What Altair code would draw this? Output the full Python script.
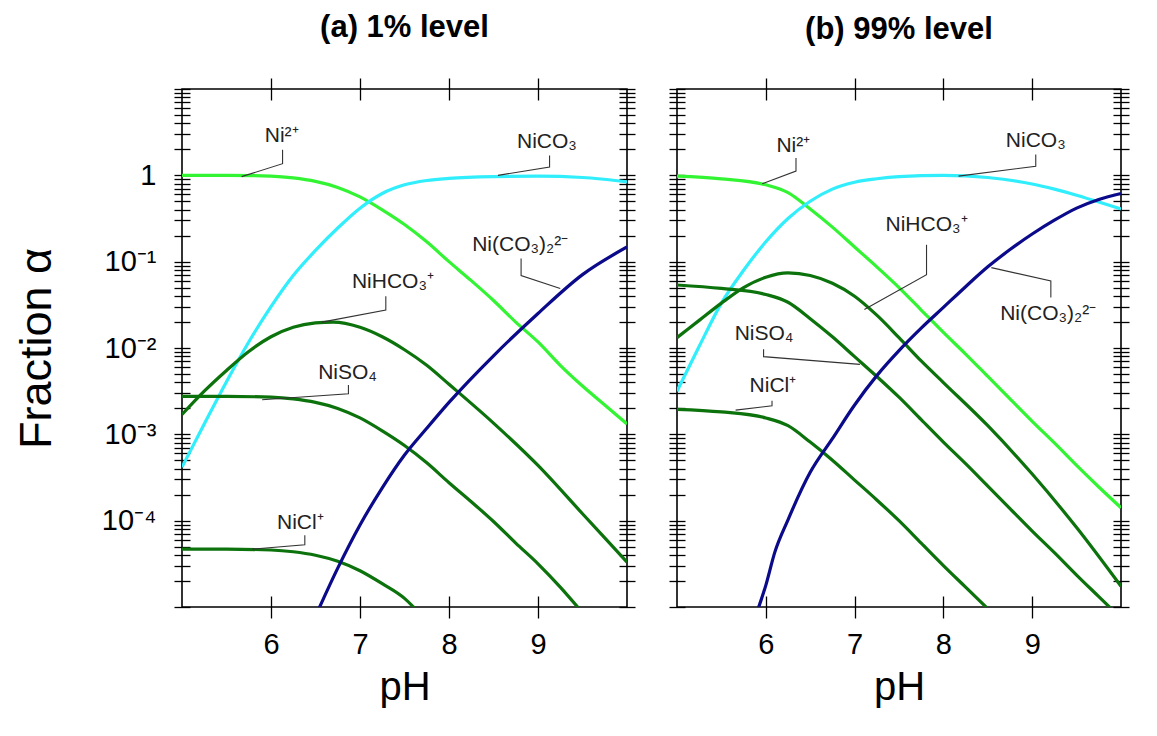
import altair as alt
import pandas as pd

# ---------------- data: pH and log10(fraction alpha) ----------------
SPECIES = ["Ni2+", "NiCO3", "NiHCO3+", "NiSO4", "NiCl+", "Ni(CO3)2 2-"]
COLORS = ["#33f433", "#30eefb", "#0c720c", "#0c720c", "#0c720c", "#0a0a8a"]

# Panel (a) 1% level
A_PH_NI2 = [5.0, 5.5, 6.0, 6.25, 6.5, 6.75, 7.0, 7.25, 7.5, 7.75, 8.0, 8.25, 8.5, 8.75, 9.0, 9.25, 9.5, 9.75, 10.0]
A_LG_NI2 = [0.0, 0.0, -0.01, -0.03, -0.07, -0.14, -0.25, -0.40, -0.57, -0.77, -1.0, -1.22, -1.45, -1.70, -1.93, -2.2, -2.44, -2.66, -2.88]
A_PH_CO3 = [5.0, 5.25, 5.5, 5.75, 6.0, 6.25, 6.5, 6.75, 7.0, 7.25, 7.5, 7.75, 8.0, 8.5, 9.0, 9.5, 10.0]
A_LG_CO3 = [-3.38, -2.88, -2.39, -1.93, -1.52, -1.16, -0.87, -0.61, -0.38, -0.21, -0.11, -0.06, -0.035, -0.015, -0.01, -0.025, -0.075]
A_PH_HCO3 = [5.0, 5.25, 5.5, 5.75, 6.0, 6.25, 6.5, 6.7, 7.0, 7.25, 7.5, 7.75, 8.0, 8.5, 9.0, 9.5, 10.0]
A_LG_HCO3 = [-2.77, -2.5, -2.26, -2.04, -1.87, -1.76, -1.71, -1.70, -1.76, -1.87, -2.02, -2.2, -2.42, -2.87, -3.36, -3.92, -4.48]
A_PH_SO4 = [5.0, 5.5, 6.0, 6.25, 6.5, 6.75, 7.0, 7.25, 7.5, 7.75, 8.0, 8.25, 8.5, 8.75, 9.0, 9.25, 9.47]
A_LG_SO4 = [-2.56, -2.56, -2.57, -2.59, -2.63, -2.70, -2.81, -2.96, -3.13, -3.33, -3.56, -3.78, -4.01, -4.26, -4.5, -4.77, -5.03]
A_PH_CL = [5.0, 5.5, 6.0, 6.25, 6.5, 6.75, 7.0, 7.25, 7.5, 7.62]
A_LG_CL = [-4.33, -4.33, -4.34, -4.36, -4.40, -4.47, -4.58, -4.73, -4.9, -5.02]
A_PH_DI = [6.52, 6.75, 7.0, 7.25, 7.5, 7.75, 8.0, 8.5, 9.0, 9.5, 10.0]
A_LG_DI = [-5.06, -4.55, -4.05, -3.62, -3.24, -2.93, -2.63, -2.09, -1.6, -1.15, -0.83]

# Panel (b) 99% level
B_PH_NI2 = [5.0, 5.5, 6.0, 6.25, 6.5, 6.75, 7.0, 7.25, 7.5, 7.75, 8.0, 8.25, 8.5, 8.75, 9.0, 9.25, 9.5, 9.75, 10.0]
B_LG_NI2 = [-0.01, -0.04, -0.11, -0.2, -0.39, -0.6, -0.83, -1.06, -1.3, -1.56, -1.82, -2.07, -2.33, -2.59, -2.85, -3.1, -3.36, -3.61, -3.85]
B_PH_CO3 = [5.0, 5.25, 5.5, 5.75, 6.0, 6.25, 6.5, 6.75, 7.0, 7.25, 7.5, 8.0, 8.5, 9.0, 9.25, 9.5, 9.75, 10.0]
B_LG_CO3 = [-2.5, -1.98, -1.48, -1.1, -0.77, -0.5, -0.3, -0.16, -0.08, -0.04, -0.015, 0.0, -0.025, -0.1, -0.16, -0.23, -0.31, -0.39]
B_PH_HCO3 = [5.0, 5.25, 5.5, 5.75, 6.0, 6.25, 6.5, 6.75, 7.0, 7.25, 7.5, 7.75, 8.0, 8.5, 9.0, 9.5, 10.0]
B_LG_HCO3 = [-1.88, -1.68, -1.48, -1.3, -1.18, -1.13, -1.16, -1.25, -1.4, -1.62, -1.88, -2.15, -2.4, -2.9, -3.46, -4.08, -4.76]
B_PH_SO4 = [5.0, 5.5, 6.0, 6.25, 6.5, 6.75, 7.0, 7.25, 7.5, 7.75, 8.0, 8.25, 8.5, 8.75, 9.0, 9.25, 9.5, 9.75, 9.92]
B_LG_SO4 = [-1.27, -1.31, -1.38, -1.47, -1.66, -1.87, -2.1, -2.33, -2.57, -2.83, -3.09, -3.34, -3.6, -3.86, -4.12, -4.37, -4.63, -4.88, -5.05]
B_PH_CL = [5.0, 5.5, 6.0, 6.25, 6.5, 6.75, 7.0, 7.25, 7.5, 7.75, 8.0, 8.25, 8.52]
B_LG_CL = [-2.71, -2.74, -2.81, -2.9, -3.09, -3.3, -3.53, -3.76, -4.0, -4.26, -4.52, -4.77, -5.04]
B_PH_DI = [5.9, 6.0, 6.1, 6.25, 6.5, 6.75, 7.0, 7.25, 7.5, 7.75, 8.0, 8.25, 8.5, 8.75, 9.0, 9.25, 9.5, 9.75, 10.0]
B_LG_DI = [-5.06, -4.75, -4.37, -3.99, -3.44, -3.05, -2.66, -2.32, -2.03, -1.77, -1.53, -1.29, -1.06, -0.86, -0.68, -0.52, -0.38, -0.28, -0.21]

# ---------------- annotation labels (text position + leader polyline, pH / log10 alpha) -------------
LABELS = ["Ni²⁺", "NiCO₃", "Ni(CO₃)₂²⁻", "NiHCO₃⁺", "NiSO₄", "NiCl⁺"]
A_LBL_PH = [6.12, 9.10, 8.80, 7.37, 6.86, 6.33]
A_LBL_LG = [0.45, 0.39, -0.81, -1.23, -2.29, -4.03]
A_LEAD_PH = [[6.13, 6.13, 5.67], [9.13, 9.13, 8.55], [8.81, 8.81, 9.25],
             [7.29, 7.29, 6.57], [6.87, 6.87, 5.90], [6.38, 6.38, 5.79]]
A_LEAD_LG = [[0.297, 0.135, -0.015], [0.231, 0.097, 0.0], [-0.964, -1.16, -1.31],
             [-1.40, -1.56, -1.70], [-2.43, -2.53, -2.60], [-4.17, -4.28, -4.33]]

B_LBL_PH = [6.31, 9.04, 9.18, 7.81, 5.98, 6.08]
B_LBL_LG = [0.34, 0.40, -1.61, -0.58, -1.84, -2.44]
B_LEAD_PH = [[6.34, 6.34, 5.96], [9.04, 9.04, 8.17], [9.21, 9.21, 8.54],
             [7.81, 7.81, 7.11], [5.975, 5.975, 7.06], [6.07, 6.07, 5.66]]
B_LEAD_LG = [[0.202, 0.049, -0.098], [0.24, 0.106, -0.009], [-1.416, -1.223, -1.069],
             [-0.803, -1.15, -1.555], [-2.014, -2.10, -2.19], [-2.61, -2.67, -2.72]]

X_TICKS = [6, 7, 8, 9]
Y_DECADES = [1e-5, 1e-4, 1e-3, 1e-2, 1e-1, 1.0]
Y_MULTS = [1, 2, 3, 4, 5, 6, 7, 8, 9]
Y_TICKS = [m * d for d in Y_DECADES for m in Y_MULTS] + [10.0]

FONT = "Liberation Sans"

LABEL_EXPR = (
    "abs(datum.value - 1) < 1e-6 ? '1' : "
    "abs(datum.value - 0.1) < 1e-7 ? '10⁻¹' : "
    "abs(datum.value - 0.01) < 1e-8 ? '10⁻²' : "
    "abs(datum.value - 0.001) < 1e-9 ? '10⁻³' : "
    "abs(datum.value - 0.0001) < 1e-10 ? '10⁻⁴' : ''"
)


def series_frame(pairs):
    rows = []
    for sp, phs, lgs in pairs:
        for p, v in zip(phs, lgs):
            rows.append({"species": sp, "pH": p, "alpha": 10 ** v})
    return pd.DataFrame(rows)


def leader_frame(lph, llg):
    rows = []
    for i, (phs, lgs) in enumerate(zip(lph, llg)):
        for j, (p, v) in enumerate(zip(phs, lgs)):
            rows.append({"lid": i, "seq": j, "pH": p, "alpha": 10 ** v})
    return pd.DataFrame(rows)


def label_frame(lph, llg):
    return pd.DataFrame({"label": LABELS, "pH": lph, "alpha": [10 ** v for v in llg]})


XS = alt.Scale(type="linear", domain=[5, 10], nice=False, zero=False)
YS = alt.Scale(type="log", domain=[1e-5, 10], nice=False)


def panel(df, lead, lbl, title, left_labels, width):
    if left_labels:
        y_axis = alt.Axis(orient="left", values=Y_TICKS, labelExpr=LABEL_EXPR, tickSize=16, offset=-8,
                          domain=False, grid=False, tickColor="black", tickWidth=1.3,
                          labelFont=FONT, labelFontSize=29, labelColor="black", labelPadding=18,
                          labelOverlap=False, labelFlush=False, labelBound=False,
                          title="Fraction α", titleFont=FONT, titleFontSize=45, titleFontWeight="normal",
                          titleColor="black", titlePadding=42)
    else:
        y_axis = alt.Axis(orient="left", values=Y_TICKS, labels=False, tickSize=16, offset=-8,
                          domain=False, grid=False, tickColor="black", tickWidth=1.3, title=None)
    x_axis = alt.Axis(orient="bottom", values=X_TICKS, format="d", tickSize=22, offset=-11,
                      domain=False, grid=False, tickColor="black", tickWidth=1.3,
                      labelFont=FONT, labelFontSize=29, labelColor="black", labelPadding=12,
                      title="pH", titleFont=FONT, titleFontSize=40, titleFontWeight="normal",
                      titleColor="black", titlePadding=8)
    x_top = alt.Axis(orient="top", values=X_TICKS, labels=False, tickSize=22, offset=-11,
                     domain=False, grid=False, tickColor="black", tickWidth=1.3, title=None)
    y_right = alt.Axis(orient="right", values=Y_TICKS, labels=False, tickSize=16, offset=-8,
                       domain=False, grid=False, tickColor="black", tickWidth=1.3, title=None)

    X = alt.X("pH:Q", scale=XS, axis=x_axis)
    Y = alt.Y("alpha:Q", scale=YS, axis=y_axis)

    lines = alt.Chart(df).mark_line(strokeWidth=3.2, clip=True, interpolate="monotone").encode(
        x=X, y=Y,
        color=alt.Color("species:N", scale=alt.Scale(domain=SPECIES, range=COLORS), legend=None),
        detail="species:N",
    )
    leaders = alt.Chart(lead).mark_line(color="#333333", strokeWidth=1.1).encode(
        x=X, y=Y, detail="lid:N", order="seq:Q"
    )
    texts = alt.Chart(lbl).mark_text(font=FONT, fontSize=21, color="#222222", baseline="middle",
                                     align="center").encode(x=X, y=Y, text="label:N")
    inner = alt.layer(lines, leaders, texts)
    frame_axes = alt.Chart(df).mark_point(opacity=0).encode(
        x=alt.X("pH:Q", scale=XS, axis=x_top),
        y=alt.Y("alpha:Q", scale=YS, axis=y_right),
    )
    return alt.layer(inner, frame_axes).resolve_scale(x="independent", y="independent").properties(
        width=width, height=518,
        title=alt.TitleParams(text=title, font=FONT, fontSize=31, fontWeight="bold", color="black",
                              anchor="middle", offset=31),
    )


df_a = series_frame([
    ("Ni2+", A_PH_NI2, A_LG_NI2), ("NiCO3", A_PH_CO3, A_LG_CO3), ("NiHCO3+", A_PH_HCO3, A_LG_HCO3),
    ("NiSO4", A_PH_SO4, A_LG_SO4), ("NiCl+", A_PH_CL, A_LG_CL), ("Ni(CO3)2 2-", A_PH_DI, A_LG_DI),
])
df_b = series_frame([
    ("Ni2+", B_PH_NI2, B_LG_NI2), ("NiCO3", B_PH_CO3, B_LG_CO3), ("NiHCO3+", B_PH_HCO3, B_LG_HCO3),
    ("NiSO4", B_PH_SO4, B_LG_SO4), ("NiCl+", B_PH_CL, B_LG_CL), ("Ni(CO3)2 2-", B_PH_DI, B_LG_DI),
])

pa = panel(df_a, leader_frame(A_LEAD_PH, A_LEAD_LG), label_frame(A_LBL_PH, A_LBL_LG), "(a) 1% level", True, 445)
pb = panel(df_b, leader_frame(B_LEAD_PH, B_LEAD_LG), label_frame(B_LBL_PH, B_LBL_LG), "(b) 99% level", False, 444)

chart = alt.hconcat(pa, pb, spacing=30).properties(
    padding={"left": 5, "top": 3, "right": 5, "bottom": 5}
).configure(
    background="white",
    view=alt.ViewConfig(stroke="black", strokeWidth=1.6),
)

chart.save("out.html", embed_options={"renderer": "svg", "actions": False})
